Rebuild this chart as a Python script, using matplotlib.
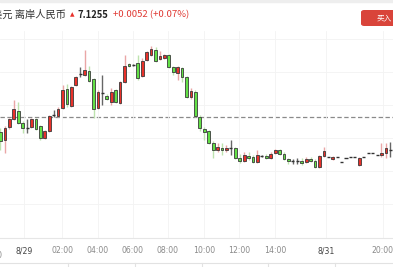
import matplotlib
matplotlib.use("Agg")
import matplotlib.pyplot as plt
from matplotlib.patches import FancyBboxPatch
from matplotlib.lines import Line2D

# 15-minute candles, USD/CNH
opens = [7.1188, 7.1180, 7.1193, 7.1201, 7.1209, 7.1197, 7.1192, 7.1193, 7.1201, 7.1194,
         7.1182, 7.1189, 7.1205, 7.1204, 7.1212, 7.1231, 7.1214, 7.1235, 7.1246, 7.1245,
         7.1249, 7.1241, 7.1212, 7.1227, 7.1224, 7.1218, 7.1230, 7.1217, 7.1238, 7.1256,
         7.1255, 7.1257, 7.1244, 7.1260, 7.1265, 7.1270, 7.1261, 7.1262, 7.1265, 7.1253,
         7.1247, 7.1252, 7.1243, 7.1223, 7.1228, 7.1203, 7.1191, 7.1189, 7.1177, 7.1170,
         7.1172, 7.1170, 7.1172, 7.1172, 7.1162, 7.1159, 7.1164, 7.1163, 7.1158, 7.1164,
         7.1164, 7.1162, 7.1167, 7.1170, 7.1166, 7.1161, 7.1159, 7.1159, 7.1159, 7.1158,
         7.1161, 7.1159, 7.1153, 7.1164, 7.1163, 7.1161, 7.1163, 7.1158, 7.1162, 7.1163,
         7.1163, 7.1155, 7.1163, 7.1167, 7.1167, 7.1165, 7.1165, 7.1167, 7.1170]
highs = [7.1192, 7.1194, 7.1202, 7.1220, 7.1218, 7.1199, 7.1201, 7.1202, 7.1202, 7.1195,
         7.1190, 7.1205, 7.1210, 7.1213, 7.1235, 7.1236, 7.1234, 7.1244, 7.1253, 7.1270,
         7.1254, 7.1242, 7.1230, 7.1245, 7.1226, 7.1232, 7.1231, 7.1239, 7.1265, 7.1257,
         7.1256, 7.1265, 7.1262, 7.1269, 7.1274, 7.1273, 7.1269, 7.1266, 7.1266, 7.1254,
         7.1254, 7.1253, 7.1244, 7.1232, 7.1230, 7.1205, 7.1193, 7.1190, 7.1179, 7.1177,
         7.1177, 7.1175, 7.1180, 7.1173, 7.1166, 7.1168, 7.1168, 7.1165, 7.1170, 7.1165,
         7.1166, 7.1168, 7.1171, 7.1171, 7.1168, 7.1162, 7.1161, 7.1162, 7.1162, 7.1163,
         7.1163, 7.1161, 7.1165, 7.1173, 7.1163, 7.1164, 7.1163, 7.1158, 7.1162, 7.1163,
         7.1163, 7.1163, 7.1163, 7.1167, 7.1167, 7.1165, 7.1177, 7.1177, 7.1178]
lows = [7.1170, 7.1167, 7.1191, 7.1200, 7.1196, 7.1187, 7.1187, 7.1192, 7.1190, 7.1180,
        7.1181, 7.1188, 7.1203, 7.1203, 7.1211, 7.1213, 7.1213, 7.1234, 7.1243, 7.1244,
        7.1238, 7.1202, 7.1211, 7.1215, 7.1220, 7.1215, 7.1217, 7.1216, 7.1237, 7.1253,
        7.1254, 7.1240, 7.1243, 7.1259, 7.1264, 7.1258, 7.1260, 7.1261, 7.1252, 7.1245,
        7.1240, 7.1238, 7.1222, 7.1221, 7.1203, 7.1189, 7.1180, 7.1176, 7.1162, 7.1168,
        7.1165, 7.1168, 7.1165, 7.1161, 7.1157, 7.1158, 7.1160, 7.1157, 7.1157, 7.1163,
        7.1161, 7.1161, 7.1166, 7.1165, 7.1160, 7.1156, 7.1156, 7.1156, 7.1155, 7.1157,
        7.1158, 7.1152, 7.1152, 7.1163, 7.1163, 7.1160, 7.1163, 7.1158, 7.1162, 7.1163,
        7.1163, 7.1154, 7.1163, 7.1167, 7.1167, 7.1165, 7.1163, 7.1162, 7.1163]
closes = [7.1179, 7.1192, 7.1201, 7.1211, 7.1197, 7.1192, 7.1192, 7.1201, 7.1191, 7.1182,
          7.1189, 7.1204, 7.1205, 7.1211, 7.1230, 7.1216, 7.1233, 7.1243, 7.1246, 7.1250,
          7.1239, 7.1211, 7.1228, 7.1227, 7.1221, 7.1228, 7.1218, 7.1238, 7.1254, 7.1254,
          7.1255, 7.1242, 7.1259, 7.1268, 7.1271, 7.1259, 7.1264, 7.1265, 7.1253, 7.1248,
          7.1253, 7.1243, 7.1223, 7.1229, 7.1204, 7.1192, 7.1188, 7.1177, 7.1170, 7.1173,
          7.1170, 7.1172, 7.1172, 7.1162, 7.1159, 7.1165, 7.1162, 7.1158, 7.1165, 7.1164,
          7.1162, 7.1166, 7.1170, 7.1166, 7.1161, 7.1159, 7.1159, 7.1159, 7.1157, 7.1161,
          7.1159, 7.1153, 7.1164, 7.1169, 7.1163, 7.1163, 7.1163, 7.1158, 7.1162, 7.1163,
          7.1163, 7.1162, 7.1163, 7.1167, 7.1167, 7.1165, 7.1167, 7.1172, 7.1170]

prev_close = 7.1203

tick_pos = [5.3, 13.9, 22.0, 29.9, 37.8, 45.9, 53.8, 62.0, 73.5, 86.3]
tick_labels = ["8/29", "02:00", "04:00", "06:00", "08:00", "10:00", "12:00", "14:00", "8/31", "20:00"]
date_labels = ["8/29", "8/31"]

RED = "#e8312a"
GREEN = "#62e046"
RED_WICK = "#eaa6a6"
GREEN_WICK = "#bde3ae"
DOJI = "#666666"


def main():
    plt.rcParams['font.family'] = ['Noto Sans CJK SC', 'DejaVu Sans']
    fig = plt.figure(figsize=(3.93, 2.67), dpi=100)
    W, H = 393, 267
    ax = fig.add_axes([0, 29 / H, 1, 207 / H])

    idx = list(range(len(opens)))
    # wicks first
    for i in idx:
        o, h, l, c = opens[i], highs[i], lows[i], closes[i]
        if c > o:
            wc = RED_WICK
        elif c < o:
            wc = GREEN_WICK
        else:
            wc = DOJI
        if h > l:
            ax.vlines(i, l, h, color=wc, linewidth=1, zorder=2)

    up = [i for i in idx if closes[i] > opens[i]]
    down = [i for i in idx if closes[i] < opens[i]]
    flat = [i for i in idx if closes[i] == opens[i]]
    ax.bar(up, [closes[i] - opens[i] for i in up], bottom=[opens[i] for i in up],
           width=0.62, color=RED, edgecolor="#3a3a3a", linewidth=0.6, zorder=3)
    ax.bar(down, [opens[i] - closes[i] for i in down], bottom=[closes[i] for i in down],
           width=0.62, color=GREEN, edgecolor="#3a3a3a", linewidth=0.6, zorder=3)
    ax.hlines([opens[i] for i in flat], [i - 0.35 for i in flat], [i + 0.35 for i in flat],
              color="#333333", linewidth=1, zorder=3)

    ax.axhline(prev_close, color="#8a8a8a", linewidth=0.9, linestyle=(0, (3.5, 2)), zorder=1)

    ax.set_xlim(-0.11, 88.6)
    ax.set_ylim(7.1082, 7.1289)
    ax.set_yticks([7.1281, 7.1248, 7.1215, 7.1182, 7.1149, 7.1116])
    ax.set_xticks(tick_pos)
    ax.set_xticklabels(tick_labels)
    for t in ax.get_xticklabels():
        t.set_color("#444444" if t.get_text() in date_labels else "#8a8a8a")
        t.set_fontsize(5.6)
        t.set_family("DejaVu Sans")
    ax.tick_params(axis="x", length=0, pad=6)
    ax.tick_params(axis="y", length=0, labelleft=False)
    ax.grid(True, color="#f3f3f3", linewidth=0.6, zorder=0)
    for s in ["top", "left", "right"]:
        ax.spines[s].set_visible(False)
    ax.spines["bottom"].set_color("#e6e6e6")
    ax.spines["bottom"].set_linewidth(0.8)
    # label cut at the left edge
    ax.text(-2.0, -0.085, "22:00", transform=ax.get_xaxis_transform(), ha="center", va="center",
            fontsize=5.6, color="#8a8a8a", family="DejaVu Sans", clip_on=False)

    # header
    fig.patches.append(plt.Rectangle((0, 1 - 2 / H), 1, 2 / H, transform=fig.transFigure,
                                     color="#eeeeee"))
    fig.text(-8 / W, 1 - 15 / H, "美元 离岸人民币", fontsize=7.4, color="#333333", va="center", ha="left")
    fig.text(72 / W, 1 - 15 / H, "▲", fontsize=4.2, color=RED, va="center", ha="center",
             family="DejaVu Sans")
    fig.text(78 / W, 1 - 15 / H, "7.1255", fontsize=6.8, color="#222222", weight="bold",
             va="center", ha="left")
    fig.text(113 / W, 1 - 15 / H, "+0.0052 (+0.07%)", fontsize=6.9, color="#e03b35",
             va="center", ha="left")
    btn = FancyBboxPatch((361 / W, 1 - 26 / H), 40 / W, 16 / H, transform=fig.transFigure,
                         boxstyle="round,pad=0,rounding_size=0.008", facecolor="#d9443a",
                         edgecolor="none")
    fig.patches.append(btn)
    fig.text(384 / W, 1 - 18 / H, "买入", fontsize=5.5, color="white", va="center", ha="center")

    # bottom panel border
    fig.lines.append(Line2D([0, 1], [4 / H, 4 / H], transform=fig.transFigure,
                            color="#e2e2e2", linewidth=0.8))
    for xp in [68, 135, 202, 268, 335]:
        fig.lines.append(Line2D([xp / W, xp / W], [0, 4 / H], transform=fig.transFigure,
                                color="#e2e2e2", linewidth=0.8))

    fig.savefig("out.png", dpi=100)


if __name__ == "__main__":
    main()
